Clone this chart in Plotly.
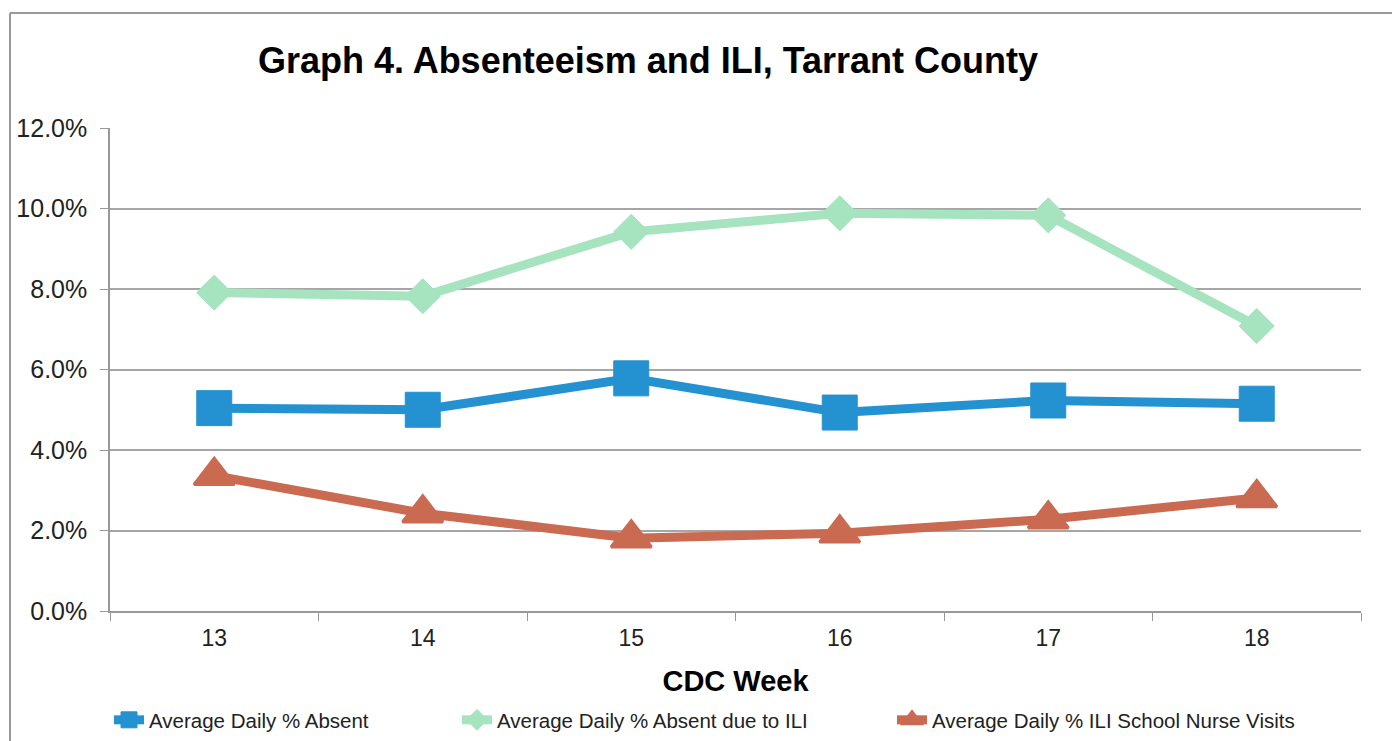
import plotly.graph_objects as go

weeks = ["13", "14", "15", "16", "17", "18"]
absent = [0.0504, 0.0500, 0.0578, 0.0493, 0.0523, 0.0515]
absent_ili = [0.0791, 0.0782, 0.0942, 0.0988, 0.0983, 0.0708]
nurse_ili = [0.0336, 0.0243, 0.0181, 0.0193, 0.0228, 0.0281]

names = ["Average Daily % Absent", "Average Daily % Absent due to ILI",
         "Average Daily % ILI School Nurse Visits"]
colors = ["#2492D1", "#A6E3BF", "#C96A51"]

FONT = "Liberation Sans, Arial, sans-serif"
W, H = 1392, 741

fig = go.Figure()
fig.add_trace(go.Scatter(x=weeks, y=absent, name=names[0], mode="lines+markers",
                         line=dict(color=colors[0], width=9),
                         marker=dict(symbol="square", size=35, color=colors[0],
                                     line=dict(color=colors[0], width=1)),
                         legend="legend", showlegend=True))
fig.add_trace(go.Scatter(x=weeks, y=absent_ili, name=names[1], mode="lines+markers",
                         line=dict(color=colors[1], width=9),
                         marker=dict(symbol="diamond", size=27, color=colors[1],
                                     line=dict(color=colors[1], width=1)),
                         legend="legend2", showlegend=True))
fig.add_trace(go.Scatter(x=weeks, y=nurse_ili, name=names[2], mode="lines+markers",
                         line=dict(color=colors[2], width=9),
                         marker=dict(symbol="triangle-up", size=35, color=colors[2],
                                     line=dict(color=colors[2], width=3)),
                         legend="legend3", showlegend=True))

leg_common = dict(xref="container", yref="container", yanchor="middle",
                  y=1 - 720 / H, xanchor="left", bgcolor="rgba(0,0,0,0)",
                  font=dict(family=FONT, size=20.5, color="#222"), itemwidth=30)
fig.update_layout(
    width=W, height=H, showlegend=True,
    paper_bgcolor="white", plot_bgcolor="white",
    margin=dict(l=110, r=31, t=128, b=130, autoexpand=False),
    title=dict(text="<b>Graph 4. Absenteeism and ILI, Tarrant County</b>",
               font=dict(family=FONT, size=36, color="black"),
               xref="container", yref="container",
               x=648 / W, xanchor="center", y=1 - 60 / H, yanchor="middle"),
    legend=dict(x=109 / W, **leg_common),
    legend2=dict(x=457 / W, **leg_common),
    legend3=dict(x=892 / W, **leg_common),
    xaxis=dict(type="category", range=[-0.5, 5.5], autorange=False,
               tickson="boundaries", ticks="outside", ticklen=8,
               tickcolor="#999", showline=True, linecolor="#999", linewidth=1.5,
               showgrid=False, ticklabelstandoff=6, tickangle=0,
               tickfont=dict(family=FONT, size=23, color="#222"),
               title=dict(text="<b>CDC Week</b>", standoff=20,
                          font=dict(family=FONT, size=29, color="black"))),
    yaxis=dict(range=[0, 0.12], dtick=0.02, tickformat=".1%", ticks="outside",
               ticklen=8, tickcolor="#999", showline=True, linecolor="#999",
               linewidth=1.5, showgrid=True, gridcolor="#A6A6A6", gridwidth=1.5,
               zeroline=False, ticklabelstandoff=8,
               tickfont=dict(family=FONT, size=25, color="#222")),
)

# outer chart border (left and top edges visible)
fig.add_shape(type="line", xref="paper", yref="paper",
              x0=(10 - 110) / 1251, x1=(10 - 110) / 1251,
              y0=(611 - 760) / 483, y1=(611 - 13) / 483,
              line=dict(color="#999", width=2))
fig.add_shape(type="line", xref="paper", yref="paper",
              x0=(10 - 110) / 1251, x1=(1400 - 110) / 1251,
              y0=(611 - 13) / 483, y1=(611 - 13) / 483,
              line=dict(color="#999", width=2))

fig.write_html("out.html", config={"displayModeBar": False},
               post_script="document.body.style.margin='0px';document.body.style.overflow='hidden';")
